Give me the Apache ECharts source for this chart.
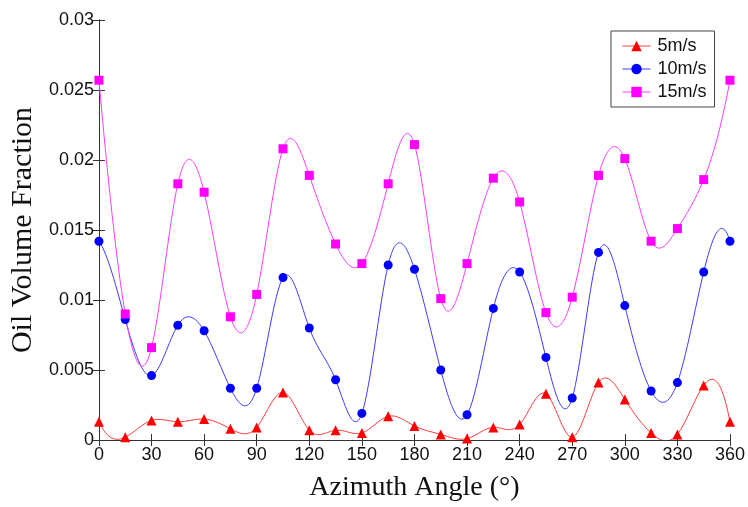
<!DOCTYPE html>
<html>
<head>
<meta charset="utf-8">
<script src="https://cdn.jsdelivr.net/npm/echarts@6/dist/echarts.min.js"></script>
<style>
  html, body { margin: 0; padding: 0; background: #fff; }
  #chart { width: 748px; height: 507px; }
</style>
</head>
<body>
<div id="chart"></div>
<script>
// Azimuth angles (degrees) where the oil volume fraction was sampled
const angles = [0, 15, 30, 45, 60, 75, 90, 105, 120, 135, 150, 165, 180,
                195, 210, 225, 240, 255, 270, 285, 300, 315, 330, 345, 360];

// Oil volume fraction at 5 m/s
const v5 = [0.0013, 0.0002, 0.0014, 0.0013, 0.0015, 0.0008, 0.0009, 0.0034, 0.0007,
            0.0007, 0.0005, 0.0017, 0.0010, 0.0004, 0.0001, 0.0009, 0.0011, 0.0033,
            0.0002, 0.0041, 0.0029, 0.0005, 0.0004, 0.0039, 0.0013];

// Oil volume fraction at 10 m/s
const v10 = [0.0142, 0.0086, 0.0046, 0.0082, 0.0078, 0.0037, 0.0037, 0.0116, 0.0080,
             0.0043, 0.0019, 0.0125, 0.0122, 0.0050, 0.0018, 0.0094, 0.0120, 0.0059,
             0.0030, 0.0134, 0.0096, 0.0035, 0.0041, 0.0120, 0.0142];

// Oil volume fraction at 15 m/s
const v15 = [0.0257, 0.0090, 0.0066, 0.0183, 0.0177, 0.0088, 0.0104, 0.0208, 0.0189,
             0.0140, 0.0126, 0.0183, 0.0211, 0.0101, 0.0126, 0.0187, 0.0170, 0.0091,
             0.0102, 0.0189, 0.0201, 0.0142, 0.0151, 0.0186, 0.0257];

const seriesNames = ['5m/s', '10m/s', '15m/s'];
const xTicks = [0, 30, 60, 90, 120, 150, 180, 210, 240, 270, 300, 330, 360];
const yTicks = [0, 0.005, 0.01, 0.015, 0.02, 0.025, 0.03];

const pairs = vals => angles.map((a, i) => [a, vals[i]]);

// Cubic spline (not-a-knot ends): returns the slope at both ends of every segment,
// so each segment can be drawn as one Bezier curve through the measured points.
function splineSlopes(xs, ys) {
  const n = xs.length;
  const A = Array.from({ length: n }, () => new Array(n).fill(0));
  const b = new Array(n).fill(0);
  for (let i = 1; i < n - 1; i++) {
    const h0 = xs[i] - xs[i - 1], h1 = xs[i + 1] - xs[i];
    A[i][i - 1] = h0; A[i][i] = 2 * (h0 + h1); A[i][i + 1] = h1;
    b[i] = 6 * ((ys[i + 1] - ys[i]) / h1 - (ys[i] - ys[i - 1]) / h0);
  }
  // not-a-knot: third derivative continuous at the second and second-last knots
  const ha = xs[1] - xs[0], hb = xs[2] - xs[1];
  A[0][0] = hb; A[0][1] = -(ha + hb); A[0][2] = ha;
  const hc = xs[n - 2] - xs[n - 3], hd = xs[n - 1] - xs[n - 2];
  A[n - 1][n - 3] = hd; A[n - 1][n - 2] = -(hc + hd); A[n - 1][n - 1] = hc;
  // Gaussian elimination with partial pivoting
  for (let c = 0; c < n; c++) {
    let p = c;
    for (let r = c + 1; r < n; r++) if (Math.abs(A[r][c]) > Math.abs(A[p][c])) p = r;
    [A[c], A[p]] = [A[p], A[c]]; [b[c], b[p]] = [b[p], b[c]];
    for (let r = c + 1; r < n; r++) {
      const f = A[r][c] / A[c][c];
      if (f === 0) continue;
      for (let k = c; k < n; k++) A[r][k] -= f * A[c][k];
      b[r] -= f * b[c];
    }
  }
  const M = new Array(n).fill(0);
  for (let r = n - 1; r >= 0; r--) {
    let s = b[r];
    for (let k = r + 1; k < n; k++) s -= A[r][k] * M[k];
    M[r] = s / A[r][r];
  }
  const left = [], right = [];
  for (let i = 0; i < n - 1; i++) {
    const h = xs[i + 1] - xs[i], d = (ys[i + 1] - ys[i]) / h;
    left.push(d - h * (2 * M[i] + M[i + 1]) / 6);
    right.push(d + h * (M[i] + 2 * M[i + 1]) / 6);
  }
  return { left, right };
}

function curveSeries(name, vals, color) {
  const s = splineSlopes(angles, vals);
  return {
    name: name,
    type: 'custom',
    z: 1,
    silent: true,
    clip: true,
    data: pairs(vals),
    renderItem: (params, api) => {
      const i = params.dataIndex;
      if (i >= angles.length - 1) return null;
      const x0 = angles[i], x1 = angles[i + 1], h = x1 - x0;
      const p0 = api.coord([x0, vals[i]]);
      const p1 = api.coord([x1, vals[i + 1]]);
      const c0 = api.coord([x0 + h / 3, vals[i] + s.left[i] * h / 3]);
      const c1 = api.coord([x1 - h / 3, vals[i + 1] - s.right[i] * h / 3]);
      return {
        type: 'bezierCurve',
        shape: { x1: p0[0], y1: p0[1], x2: p1[0], y2: p1[1],
                 cpx1: c0[0], cpy1: c0[1], cpx2: c1[0], cpy2: c1[1] },
        style: { stroke: color, fill: null, lineWidth: 1 }
      };
    }
  };
}

function markerSeries(name, vals, symbol, size, color) {
  return {
    name: name,
    type: 'line',
    z: 3,
    data: pairs(vals),
    symbol: symbol,
    symbolSize: size,
    itemStyle: { color: color },
    lineStyle: { width: 0, opacity: 0 }
  };
}

const chart = echarts.init(document.getElementById('chart'), null, { renderer: 'canvas' });

const axisLine = { show: true, lineStyle: { color: '#333', width: 1 } };
const tickStyle = { show: true, inside: true, length: 6, lineStyle: { color: '#333' } };
const labelFont = { fontFamily: 'Liberation Sans, Arial, sans-serif', fontSize: 18, color: '#111' };
const lineColors = ['#ff3c3c', '#3c3cff', '#ff3cff'];

chart.setOption({
  animation: false,
  backgroundColor: '#fff',
  grid: { left: 97, right: 17, top: 20, bottom: 54, containLabel: false },
  legend: {
    orient: 'vertical',
    left: 611,
    top: 31,
    width: 103,
    padding: [6, 8, 6, 11],
    itemGap: 5,
    itemWidth: 28,
    itemHeight: 13,
    borderColor: '#444',
    borderWidth: 1,
    backgroundColor: '#fff',
    textStyle: { fontFamily: 'Liberation Sans, Arial, sans-serif', fontSize: 18, color: '#111', padding: [0, 0, 0, 2] },
    data: seriesNames.map((n, i) => ({
      name: n,
      lineStyle: { width: 1, opacity: 1, color: lineColors[i] }
    }))
  },
  xAxis: [{
    type: 'value',
    min: 0, max: 360, interval: 30,
    name: 'Azimuth Angle (°)',
    nameLocation: 'middle',
    nameGap: 34,
    nameTextStyle: { fontFamily: 'Liberation Serif, Times New Roman, serif', fontSize: 28, color: '#111' },
    axisLine: axisLine,
    axisTick: tickStyle,
    axisLabel: Object.assign({ margin: 6, formatter: v => xTicks.includes(v) ? String(v) : '' }, labelFont),
    splitLine: { show: false }
  }, {
    type: 'value', position: 'top',
    min: 0, max: 360, interval: 30,
    axisLine: axisLine, axisTick: tickStyle,
    axisLabel: { show: false }, splitLine: { show: false }
  }],
  yAxis: [{
    type: 'value',
    min: 0, max: 0.03, interval: 0.005,
    name: 'Oil Volume Fraction',
    nameLocation: 'middle',
    nameGap: 55,
    nameTextStyle: { fontFamily: 'Liberation Serif, Times New Roman, serif', fontSize: 30, color: '#111' },
    axisLine: axisLine,
    axisTick: tickStyle,
    axisLabel: Object.assign({ margin: 5, formatter: v => {
      const t = yTicks.find(k => Math.abs(k - v) < 1e-9);
      return t === undefined ? '' : String(parseFloat(t.toFixed(3)));
    } }, labelFont),
    splitLine: { show: false }
  }, {
    type: 'value', position: 'right',
    min: 0, max: 0.03, interval: 0.005,
    axisLine: axisLine, axisTick: tickStyle,
    axisLabel: { show: false }, splitLine: { show: false }
  }],
  series: [
    markerSeries(seriesNames[0], v5, 'triangle', 10, '#ff0000'),
    markerSeries(seriesNames[1], v10, 'circle', 9, '#0000ff'),
    markerSeries(seriesNames[2], v15, 'rect', 9, '#ff00ff'),
    curveSeries(seriesNames[0], v5, lineColors[0]),
    curveSeries(seriesNames[1], v10, lineColors[1]),
    curveSeries(seriesNames[2], v15, lineColors[2])
  ]
});
</script>
</body>
</html>
